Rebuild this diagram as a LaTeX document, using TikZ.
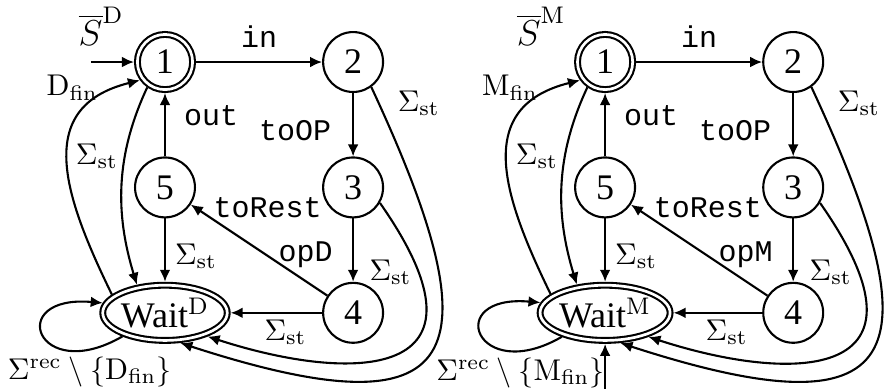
\documentclass[tikz,border=0pt]{standalone}
\usepackage{amsmath,amssymb}
\usepackage[no-math]{fontspec}
\setmainfont{Liberation Serif}
\setmonofont{Liberation Mono}
\usepackage{tikz}
\usetikzlibrary{positioning,arrows.meta,calc,shapes.geometric}
\tikzset{
  loc/.style={circle, draw, minimum size=19.97pt, inner sep=0pt, font=\fontsize{12}{14}\selectfont},
  acc/.style={loc, double, double distance=0.9pt, minimum size=18.4pt, outer sep=1.15pt},
  waitloc/.style={ellipse, draw, double, double distance=0.9pt, inner sep=0pt, outer sep=1.15pt, minimum width=37.7pt, minimum height=18.4pt, font=\fontsize{12}{14}\selectfont},
  tr/.style={-{Latex[length=4pt,width=3.6pt]}},
  lab/.style={font=\fontsize{10}{12}\selectfont, inner sep=2pt}
}
\begin{document}
\begin{tikzpicture}[on grid, node distance=41.8pt and 62.7pt, line width=0.7pt]
\useasboundingbox (0,0) rectangle (295pt,-129.67pt);
% automaton D
\node[acc] (d1) at (55pt,-20.67pt) {1};
\node[loc, right=of d1] (d2) {2};
\node[loc, below=of d2] (d3) {3};
\node[loc, below=of d3] (d4) {4};
\node[loc, below=of d1] (d5) {5};
\node[waitloc, below=of d5] (dw) {Wait$^{\mathrm{D}}$};
\coordinate[left=24.7pt of d1] (dinit);
\node[above left=11.8pt and 21.3pt of d1, font=\fontsize{12}{14}\selectfont] (dS) {$\overline{S}^{\mathrm{D}}$};
\draw[tr] (dinit) -- (d1);
\draw[tr] (d1) -- node[lab, above=2.5pt] {\texttt{in}} (d2);
\draw[tr] (d2) -- node[lab, left=5pt, pos=0.6] {\texttt{toOP}} (d3);
\draw[tr] (d3) -- node[lab, left=4.5pt, pos=0.57] {\texttt{opD}} (d4);
\draw[tr] (d4) -- node[lab, pos=0.84, anchor=south west, inner sep=0pt] {\texttt{toRest}} (d5);
\draw[tr] (d5) -- node[lab, right=4pt, pos=0.65] {\texttt{out}} (d1);
\draw[tr] (d5) -- node[lab, right=1pt, pos=0.6] {$\Sigma_{\mathrm{st}}$} (dw);
\draw[tr] (d4) -- node[lab, below, pos=0.4] {$\Sigma_{\mathrm{st}}$} (dw);
\draw[tr] (d1.235) to[out=245, in=107, distance=25pt] node[lab, left, pos=0.35] {$\Sigma_{\mathrm{st}}$} (dw.135);
\draw[tr] (dw.161) to[out=116, in=194, distance=36.7pt] node[lab, left, pos=0.87, yshift=2pt] {$\mathrm{D}_{\mathrm{fin}}$} (d1.216);
\draw[tr] (dw.209) to[out=210, in=175, distance=33pt] node[lab, below, pos=0.14] {$\Sigma^{\mathrm{rec}}\setminus\{\mathrm{D}_{\mathrm{fin}}\}$} (dw.171);
\draw[tr] (d2.306) to[out=295, in=342, distance=100pt] node[lab, right=4pt, pos=0.02] {$\Sigma_{\mathrm{st}}$} (dw.297);
\draw[tr] (d3.330) to[out=305, in=342, out distance=73.3pt, in distance=50pt] node[lab, left, pos=0.15] {$\Sigma_{\mathrm{st}}$} (dw.331);
% automaton M
\node[acc, right=146.7pt of d1] (m1) {1};
\node[loc, right=of m1] (m2) {2};
\node[loc, below=of m2] (m3) {3};
\node[loc, below=of m3] (m4) {4};
\node[loc, below=of m1] (m5) {5};
\node[waitloc, below=of m5] (mw) {Wait$^{\mathrm{M}}$};
\coordinate[below=25.3pt of mw] (minit);
\node[above left=11.8pt and 21.3pt of m1, font=\fontsize{12}{14}\selectfont] (mS) {$\overline{S}^{\mathrm{M}}$};
\draw[tr] (minit) -- (mw);
\draw[tr] (m1) -- node[lab, above=2.5pt] {\texttt{in}} (m2);
\draw[tr] (m2) -- node[lab, left=5pt, pos=0.6] {\texttt{toOP}} (m3);
\draw[tr] (m3) -- node[lab, left=4.5pt, pos=0.57] {\texttt{opM}} (m4);
\draw[tr] (m4) -- node[lab, pos=0.84, anchor=south west, inner sep=0pt] {\texttt{toRest}} (m5);
\draw[tr] (m5) -- node[lab, right=4pt, pos=0.65] {\texttt{out}} (m1);
\draw[tr] (m5) -- node[lab, right=1pt, pos=0.6] {$\Sigma_{\mathrm{st}}$} (mw);
\draw[tr] (m4) -- node[lab, below, pos=0.4] {$\Sigma_{\mathrm{st}}$} (mw);
\draw[tr] (m1.235) to[out=245, in=107, distance=25pt] node[lab, left, pos=0.35] {$\Sigma_{\mathrm{st}}$} (mw.135);
\draw[tr] (mw.161) to[out=116, in=194, distance=36.7pt] node[lab, left, pos=0.87, yshift=2pt] {$\mathrm{M}_{\mathrm{fin}}$} (m1.216);
\draw[tr] (mw.209) to[out=210, in=175, distance=33pt] node[lab, below, pos=0.16, xshift=-1.5pt] {$\Sigma^{\mathrm{rec}}\setminus\{\mathrm{M}_{\mathrm{fin}}\}$} (mw.171);
\draw[tr] (m2.306) to[out=295, in=342, distance=100pt] node[lab, right=4pt, pos=0.02] {$\Sigma_{\mathrm{st}}$} (mw.297);
\draw[tr] (m3.330) to[out=305, in=342, out distance=73.3pt, in distance=50pt] node[lab, left, pos=0.15] {$\Sigma_{\mathrm{st}}$} (mw.331);
\end{tikzpicture}
\end{document}
